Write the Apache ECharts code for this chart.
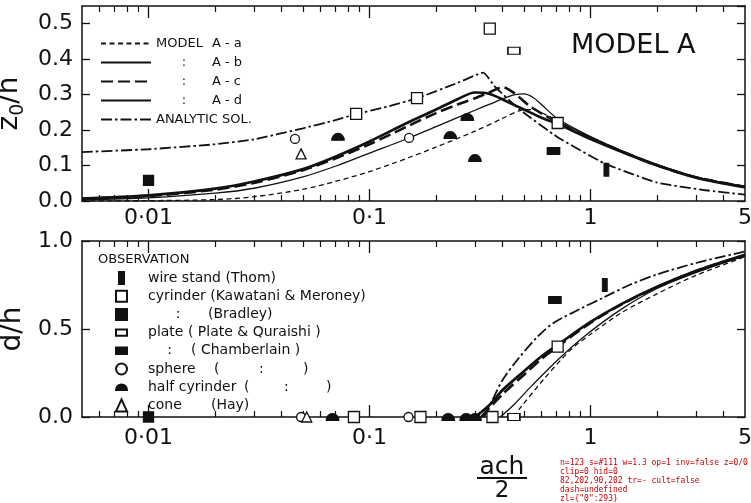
<!DOCTYPE html>
<html>
<head>
<meta charset="utf-8">
<script src="https://cdn.jsdelivr.net/npm/echarts@6/dist/echarts.min.js"></script>
<style>
  html, body { margin: 0; padding: 0; background: #fff; }
  #chart { width: 751px; height: 503px; }
  #dbg { position: absolute; left: 560px; top: 458px; width: 190px; font: 8px monospace; color: #c00; white-space: pre-wrap; }
</style>
</head>
<body>
<div id="chart"></div>
<div id="dbg"></div>
<script>
// ---- model curves, upper panel (z0/h) ----
const topAaX = [0.005, 0.01, 0.02, 0.03, 0.05, 0.07, 0.1, 0.15, 0.2, 0.3, 0.4, 0.48, 0.55, 0.62, 0.71, 1, 1.5, 2, 3, 5];
const topAaY = [0, 0.001, 0.004, 0.012, 0.033, 0.055, 0.083, 0.122, 0.152, 0.197, 0.233, 0.255, 0.258, 0.245, 0.226, 0.18, 0.131, 0.101, 0.067, 0.04];
const topAbX = [0.005, 0.01, 0.02, 0.03, 0.05, 0.07, 0.1, 0.15, 0.2, 0.25, 0.3, 0.35, 0.4, 0.45, 0.5, 0.55, 0.6, 0.71, 1, 1.5, 2, 3, 5];
const topAbY = [0.003, 0.009, 0.022, 0.036, 0.068, 0.098, 0.135, 0.177, 0.21, 0.235, 0.256, 0.273, 0.288, 0.299, 0.302, 0.292, 0.272, 0.232, 0.182, 0.133, 0.103, 0.068, 0.041];
const topAcX = [0.005, 0.01, 0.02, 0.03, 0.05, 0.07, 0.1, 0.15, 0.2, 0.25, 0.3, 0.35, 0.4, 0.45, 0.53, 0.62, 0.71, 1, 1.5, 2, 3, 5];
const topAcY = [0.006, 0.014, 0.032, 0.051, 0.087, 0.12, 0.16, 0.212, 0.248, 0.272, 0.29, 0.307, 0.321, 0.305, 0.268, 0.242, 0.223, 0.178, 0.131, 0.101, 0.067, 0.04];
const topAdX = [0.005, 0.01, 0.02, 0.03, 0.05, 0.07, 0.1, 0.15, 0.2, 0.25, 0.3, 0.35, 0.42, 0.5, 0.6, 0.71, 1, 1.5, 2, 3, 5];
const topAdY = [0.007, 0.016, 0.035, 0.055, 0.09, 0.125, 0.168, 0.222, 0.258, 0.287, 0.306, 0.302, 0.28, 0.258, 0.235, 0.217, 0.175, 0.13, 0.1, 0.066, 0.039];
const topAnX = [0.005, 0.01, 0.02, 0.03, 0.05, 0.07, 0.087, 0.12, 0.164, 0.25, 0.327, 0.37, 0.48, 0.71, 1.15, 2, 3.25, 5];
const topAnY = [0.138, 0.146, 0.16, 0.174, 0.205, 0.228, 0.245, 0.266, 0.29, 0.333, 0.362, 0.322, 0.257, 0.18, 0.107, 0.052, 0.031, 0.018];

// ---- model curves, lower panel (d/h) ----
const botAaX = [0.45, 0.48, 0.61, 0.81, 1, 1.37, 2, 3, 5];
const botAaY = [0, 0.05, 0.21, 0.38, 0.47, 0.59, 0.7, 0.805, 0.91];
const botAbX = [0.39, 0.45, 0.535, 0.71, 0.93, 1.37, 2, 3, 5];
const botAbY = [0, 0.07, 0.17, 0.324, 0.455, 0.61, 0.73, 0.82, 0.915];
const botAcX = [0.32, 0.4, 0.5, 0.6, 0.71, 1, 1.37, 2, 3, 5];
const botAcY = [0, 0.13, 0.24, 0.33, 0.4, 0.535, 0.637, 0.738, 0.83, 0.92];
const botAdX = [0.3, 0.35, 0.4, 0.5, 0.6, 0.71, 1, 1.37, 2, 3, 5];
const botAdY = [0, 0.07, 0.153, 0.26, 0.345, 0.41, 0.54, 0.64, 0.74, 0.83, 0.922];
const botAnX = [0.33, 0.36, 0.4, 0.466, 0.575, 0.68, 0.9, 1.15, 1.5, 2, 3, 5];
const botAnY = [0, 0.097, 0.21, 0.324, 0.455, 0.534, 0.615, 0.68, 0.75, 0.81, 0.875, 0.94];

// ---- observations ----
const wireTopX = [1.18], wireTopY = [0.088];
const wireBotX = [1.16], wireBotY = [0.75];
const cylTopX = [0.087, 0.164, 0.35, 0.71], cylTopY = [0.246, 0.29, 0.486, 0.22];
const cylBotX = [0.085, 0.17, 0.36, 0.71], cylBotY = [0, 0, 0, 0.40];
const bradTopX = [0.01], bradTopY = [0.058];
const bradBotX = [0.01], bradBotY = [0];
const plateTopX = [0.45], plateTopY = [0.424];
const plateBotX = [0.45], plateBotY = [0];
const chamTopX = [0.68], chamTopY = [0.141];
const chamBotX = [0.69], chamBotY = [0.665];
const sphTopX = [0.046, 0.151], sphTopY = [0.175, 0.178];
const sphBotX = [0.049, 0.15], sphBotY = [0, 0];
const halfTopX = [0.072, 0.232, 0.277, 0.30], halfTopY = [0.181, 0.186, 0.237, 0.121];
const halfBotX = [0.068, 0.227, 0.274, 0.30], halfBotY = [0, 0, 0, 0];
const coneTopX = [0.049], coneTopY = [0.133];
const coneBotX = [0.052], coneBotY = [0];

// ---- ticks ----
const xMajorTicks = [0.01, 0.1, 1];
const xMinorTicks = [0.006, 0.007, 0.008, 0.009, 0.02, 0.03, 0.04, 0.05, 0.06, 0.07, 0.08, 0.09,
  0.2, 0.3, 0.4, 0.5, 0.6, 0.7, 0.8, 0.9, 2, 3, 4];
const xTickLabels = [0.01, 0.1, 1, 5];
const xLabelText = ['0·01', '0·1', '1', '5'];

const FONT = 'DejaVu Sans';
const INK = '#111';

const pts = (xs, ys) => xs.map((x, i) => [x, ys[i]]);

const chart = echarts.init(document.getElementById('chart'));

function xAxes(gridIndex, labelMargin) {
  const base = { type: 'log', gridIndex, min: 0.005, max: 5, splitLine: { show: false } };
  const line = { show: true, lineStyle: { color: INK, width: 1.5 } };
  const major = { show: true, inside: true, length: 12, customValues: xMajorTicks, lineStyle: { color: INK, width: 1.3 } };
  const minor = { show: true, inside: true, length: 6, customValues: xMinorTicks, lineStyle: { color: INK, width: 1.2 } };
  return [
    {
      ...base, position: 'bottom', axisLine: line, axisTick: major,
      axisLabel: {
        show: true, customValues: xTickLabels, color: INK, fontFamily: FONT, fontSize: 22, margin: labelMargin,
        formatter: (v) => {
          const i = xTickLabels.findIndex((t) => Math.abs(t - v) / t < 1e-6);
          return i >= 0 ? xLabelText[i] : '';
        },
      },
    },
    { ...base, position: 'bottom', axisLine: { show: false }, axisTick: minor, axisLabel: { show: false } },
    { ...base, position: 'top', axisLine: line, axisTick: major, axisLabel: { show: false } },
    { ...base, position: 'top', axisLine: { show: false }, axisTick: minor, axisLabel: { show: false } },
  ];
}

function yAxes(gridIndex, max, interval, name, nameGap) {
  const base = {
    type: 'value', gridIndex, min: 0, max, interval, splitLine: { show: false },
    axisLine: { show: true, lineStyle: { color: INK, width: 1.5 } },
    axisTick: { show: true, inside: true, length: 8, lineStyle: { color: INK, width: 1.3 } },
  };
  return [
    {
      ...base, position: 'left',
      name, nameLocation: 'middle', nameRotate: 90, nameGap,
      nameTextStyle: {
        color: INK, fontFamily: FONT, fontSize: 28,
        rich: {
          n: { fontSize: 28, lineHeight: 34, fontFamily: FONT, color: INK },
          s: { fontSize: 19, lineHeight: 19, verticalAlign: 'bottom', fontFamily: FONT, color: INK },
        },
      },
      axisLabel: {
        show: true, color: INK, fontFamily: FONT, fontSize: 22, margin: 9, showMaxLabel: max === 1,
        formatter: (v) => v.toFixed(1),
      },
    },
    { ...base, position: 'right', axisLabel: { show: false } },
  ];
}

const modelStyles = {
  'A-a': { type: [5, 3.5], width: 1.3 },
  'A-b': { type: 'solid', width: 1.3 },
  'A-c': { type: [12, 5], width: 2.6 },
  'A-d': { type: 'solid', width: 2.7 },
  'ANALYTIC SOL.': { type: [11, 3, 2.5, 3], width: 1.8 },
};

const topCurves = {
  'A-a': [topAaX, topAaY], 'A-b': [topAbX, topAbY], 'A-c': [topAcX, topAcY],
  'A-d': [topAdX, topAdY], 'ANALYTIC SOL.': [topAnX, topAnY],
};
const botCurves = {
  'A-a': [botAaX, botAaY], 'A-b': [botAbX, botAbY], 'A-c': [botAcX, botAcY],
  'A-d': [botAdX, botAdY], 'ANALYTIC SOL.': [botAnX, botAnY],
};

const series = [];
Object.keys(modelStyles).forEach((name) => {
  const ls = { color: INK, ...modelStyles[name] };
  series.push({
    name, type: 'line', xAxisIndex: 0, yAxisIndex: 0, symbol: 'none',
    smooth: name === 'ANALYTIC SOL.' ? 0.15 : 0.3,
    lineStyle: ls, itemStyle: { color: INK }, data: pts(...topCurves[name]),
  });
  series.push({
    name, type: 'line', xAxisIndex: 4, yAxisIndex: 2, symbol: 'none', smooth: 0.3,
    lineStyle: ls, itemStyle: { color: INK }, data: pts(...botCurves[name]),
  });
});

const observations = [
  { name: 'wire', symbol: 'path://M0,0H5V12H0Z', size: [5, 12], fill: INK, top: [wireTopX, wireTopY], bot: [wireBotX, wireBotY] },
  { name: 'cyl', symbol: 'path://M0,0H10V10H0Z', size: [11, 11], fill: '#fff', top: [cylTopX, cylTopY], bot: [cylBotX, cylBotY] },
  { name: 'brad', symbol: 'path://M0,0H10V10H0Z', size: [10, 10], fill: INK, top: [bradTopX, bradTopY], bot: [bradBotX, bradBotY] },
  { name: 'plate', symbol: 'path://M0,0H12V7H0Z', size: [12, 7], fill: '#fff', top: [plateTopX, plateTopY], bot: [plateBotX, plateBotY] },
  { name: 'cham', symbol: 'path://M0,0H12V7H0Z', size: [12, 7], fill: INK, top: [chamTopX, chamTopY], bot: [chamBotX, chamBotY] },
  { name: 'sphere', symbol: 'circle', size: 9, fill: '#fff', top: [sphTopX, sphTopY], bot: [sphBotX, sphBotY] },
  { name: 'half', symbol: 'path://M0,10A10,10 0 0 1 20,10Z', size: [12, 7], fill: INK, top: [halfTopX, halfTopY], bot: [halfBotX, halfBotY] },
  { name: 'cone', symbol: 'triangle', size: [10, 10], fill: '#fff', top: [coneTopX, coneTopY], bot: [coneBotX, coneBotY] },
];

observations.forEach((o) => {
  const common = {
    name: o.name, type: 'scatter', symbol: o.symbol, symbolSize: o.size, z: 5,
    itemStyle: { color: o.fill, borderColor: INK, borderWidth: 1.3, opacity: 1 },
  };
  series.push({ ...common, xAxisIndex: 0, yAxisIndex: 0, data: pts(...o.top) });
  series.push({ ...common, xAxisIndex: 4, yAxisIndex: 2, data: pts(...o.bot) });
});

const obsLabels = {
  wire: 'wire stand (Thom)',
  cyl: 'cyrinder (Kawatani & Meroney)',
  brad: '{c1|:}(Bradley)',
  plate: 'plate ( Plate & Quraishi )',
  cham: '{c2|:}( Chamberlain )',
  sphere: '{w1|sphere}{w2|(}{w3|:}{w4|)}',
  half: '{h1|half cyrinder}{h2|(}{h3|:}{h4|)}',
  cone: '{k1|cone}(Hay)',
};
const modelLabels = {
  'A-a': '{m|MODEL}A - a',
  'A-b': '{m2|:}A - b',
  'A-c': '{m2|:}A - c',
  'A-d': '{m2|:}A - d',
  'ANALYTIC SOL.': 'ANALYTIC SOL.',
};

const obsFont = { fontFamily: FONT, fontSize: 14, lineHeight: 12, color: INK };
const modelFont = { fontFamily: FONT, fontSize: 13, lineHeight: 12, color: INK };
const plain = { fontWeight: 'normal', fontFamily: FONT, color: INK };

const option = {
  animation: false,
  grid: [
    { left: 82, right: 6, top: 6, height: 195, outerBoundsMode: 'none' },
    { left: 82, right: 6, top: 241, height: 176, outerBoundsMode: 'none' },
  ],
  xAxis: [...xAxes(0, 6), ...xAxes(1, 10)],
  yAxis: [
    ...yAxes(0, 0.55, 0.1, '{n|z}{s|0}{n|/h}', 40),
    ...yAxes(1, 1, 0.5, 'd/h', 47),
  ],
  title: [
    { text: 'MODEL A', left: 566, top: 27, textStyle: { ...plain, fontSize: 27 } },
    { text: 'OBSERVATION', left: 98, top: 253, padding: 0, textStyle: { ...plain, fontSize: 13 } },
    {
      text: '{a|ach}\n{l|}\n{b|2}', left: 477, top: 458, padding: 0,
      textStyle: {
        ...plain,
        rich: {
          a: { ...plain, fontSize: 25, width: 50, align: 'center', lineHeight: 18 },
          l: { width: 50, height: 2, lineHeight: 4, backgroundColor: INK },
          b: { ...plain, fontSize: 23, width: 50, align: 'center', lineHeight: 22 },
        },
      },
    },
  ],
  legend: [
    {
      data: Object.keys(modelStyles), orient: 'vertical', left: 100, top: 37, padding: 0,
      itemWidth: 50, itemHeight: 12, itemGap: 6, selectedMode: false,
      itemStyle: { color: 'rgba(0,0,0,0)', borderColor: 'rgba(0,0,0,0)', borderWidth: 0 },
      formatter: (n) => modelLabels[n],
      textStyle: {
        ...modelFont,
        rich: {
          m: { ...modelFont, width: 56 },
          m2: { ...modelFont, width: 56, align: 'center' },
        },
      },
    },
    {
      data: observations.map((o) => o.name), orient: 'vertical', left: 115, top: 271, padding: 0,
      itemWidth: 11, itemHeight: 12, itemGap: 4.2, selectedMode: false,
      formatter: (n) => obsLabels[n],
      textStyle: {
        ...obsFont, padding: [0, 0, 0, 16],
        rich: {
          c1: { ...obsFont, width: 60, align: 'center' },
          c2: { ...obsFont, width: 43, align: 'center' },
          w1: { ...obsFont, width: 66 }, w2: { ...obsFont, width: 45 }, w3: { ...obsFont, width: 44 }, w4: { ...obsFont },
          h1: { ...obsFont, width: 96 }, h2: { ...obsFont, width: 40 }, h3: { ...obsFont, width: 42 }, h4: { ...obsFont },
          k1: { ...obsFont, width: 63 },
        },
      },
    },
  ],
  series,
};

chart.setOption(option);
window.addEventListener('resize', () => chart.resize());

// diagnostics: inspect the tick line elements
const els = chart.getZr().storage.getDisplayList(true);
const ticks = els.filter((e) => e.shape && e.shape.x1 !== undefined
  && Math.hypot(e.shape.x2 - e.shape.x1, e.shape.y2 - e.shape.y1) < 14);
let info = 'n=' + ticks.length;
if (ticks.length) {
  const t = ticks[0];
  const tr = t.getComputedTransform ? t.getComputedTransform() : null;
  let clip = 0, hid = 0;
  for (let p = t; p; p = p.parent) { if (p.getClipPath && p.getClipPath()) clip++; if (p.invisible || p.ignore) hid++; }
  info += ' s=' + t.style.stroke + ' w=' + t.style.lineWidth + ' op=' + t.style.opacity + ' inv=' + t.invisible
    + ' z=' + t.z + '/' + t.zlevel + ' clip=' + clip + ' hid=' + hid
    + '\n' + [t.shape.x1, t.shape.y1, t.shape.x2, t.shape.y2].map((v) => Math.round(v)).join(',')
    + ' tr=' + (tr ? Array.from(tr).map((v) => Math.round(v * 10) / 10).join(',') : '-')
    + ' cult=' + t.culling + ' dash=' + JSON.stringify(t.style.lineDash);
}
const zl = {};
els.forEach((e) => { zl[e.zlevel] = (zl[e.zlevel] || 0) + 1; });
info += '\nzl=' + JSON.stringify(zl);
document.getElementById('dbg').textContent = info;
</script>
</body>
</html>
